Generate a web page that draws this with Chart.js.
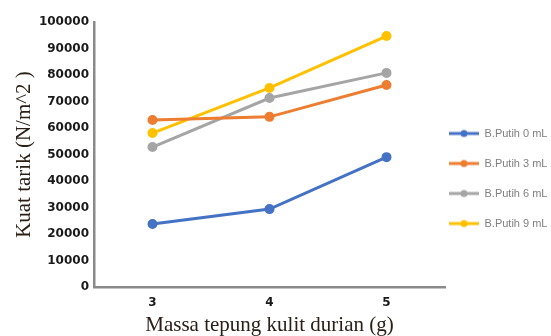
<!DOCTYPE html>
<html>
<head>
<meta charset="utf-8">
<title>Kuat tarik</title>
<script src="https://cdn.jsdelivr.net/npm/chart.js@4"></script>
<style>
  html, body { margin: 0; padding: 0; background: #fff; }
  #chart { display: block; }
</style>
</head>
<body>
<canvas id="chart" width="551" height="336"></canvas>
<script>
// data
const massa = ['3', '4', '5'];
const seriesNames = ['B.Putih 0 mL', 'B.Putih 3 mL', 'B.Putih 6 mL', 'B.Putih 9 mL'];
const putih0 = [23800, 29400, 49000];
const putih3 = [63000, 64200, 76200];
const putih6 = [52800, 71300, 80800];
const putih9 = [58100, 75100, 94700];
const yTicks = [0, 10000, 20000, 30000, 40000, 50000, 60000, 70000, 80000, 90000, 100000];

const colors = ['#4472c4', '#ed7d31', '#a5a5a5', '#ffc000'];
const allValues = [putih0, putih3, putih6, putih9];

// small line+dot marker for the legend
function legendMarker(color) {
    const c = document.createElement('canvas');
    c.width = 30;
    c.height = 10;
    const g = c.getContext('2d');
    g.strokeStyle = color;
    g.lineWidth = 3;
    g.beginPath();
    g.moveTo(0, 5);
    g.lineTo(30, 5);
    g.stroke();
    g.fillStyle = color;
    g.beginPath();
    g.arc(15, 5, 3.5, 0, Math.PI * 2);
    g.fill();
    return c;
}

const datasets = seriesNames.map((name, i) => ({
    label: name,
    data: allValues[i],
    borderColor: colors[i],
    backgroundColor: colors[i],
    borderWidth: 3,
    pointRadius: 3.5,
    pointHoverRadius: 3.5,
    tension: 0,
    fill: false
}));

new Chart(document.getElementById('chart'), {
    type: 'line',
    data: { labels: massa, datasets: datasets },
    options: {
        responsive: false,
        animation: false,
        events: [],
        layout: { padding: { top: 22, bottom: 0, left: 0, right: 0 } },
        scales: {
            x: {
                offset: true,
                grid: { display: false, drawTicks: false },
                border: { display: true, color: '#8a8a8a', width: 2.5 },
                ticks: {
                    padding: 9,
                    color: '#1a1a1a',
                    font: { family: 'DejaVu Sans', weight: 'bold', size: 12 }
                },
                title: {
                    display: true,
                    text: 'Massa tepung kulit durian (g)',
                    color: '#2a2018',
                    font: { family: 'Liberation Serif', size: 21, lineHeight: 1 },
                    padding: { top: 0, bottom: 0 }
                },
                afterFit: (s) => { s.height = 49; }
            },
            y: {
                min: 0,
                max: 100000,
                afterBuildTicks: (s) => { s.ticks = yTicks.map(v => ({ value: v })); },
                grid: { display: false, drawTicks: false },
                border: { display: true, color: '#8a8a8a', width: 2.5 },
                ticks: {
                    padding: 5,
                    color: '#1a1a1a',
                    font: { family: 'DejaVu Sans', weight: 'bold', size: 12 },
                    callback: (v) => String(v)
                },
                title: {
                    display: true,
                    text: 'Kuat tarik (N/m^2 )',
                    color: '#2a2018',
                    font: { family: 'Liberation Serif', size: 21, lineHeight: 1 },
                    padding: { top: 14, bottom: 0 }
                },
                afterFit: (s) => { s.width = 94; }
            }
        },
        plugins: {
            tooltip: { enabled: false },
            legend: {
                position: 'right',
                align: 'center',
                maxWidth: 106,
                title: { display: true, text: ' ', font: { size: 1, lineHeight: 1 }, padding: { top: 13, bottom: 0 } },
                labels: {
                    usePointStyle: true,
                    pointStyleWidth: 30,
                    padding: 4,
                    color: '#7f7f7f',
                    font: { family: 'Liberation Sans', size: 11, lineHeight: 2.364 },
                    generateLabels: (chart) => {
                        const items = Chart.defaults.plugins.legend.labels.generateLabels(chart);
                        return items.map((it, i) => {
                            it.text = [it.text];
                            it.pointStyle = legendMarker(colors[i]);
                            return it;
                        });
                    }
                }
            }
        }
    }
});
</script>
</body>
</html>
